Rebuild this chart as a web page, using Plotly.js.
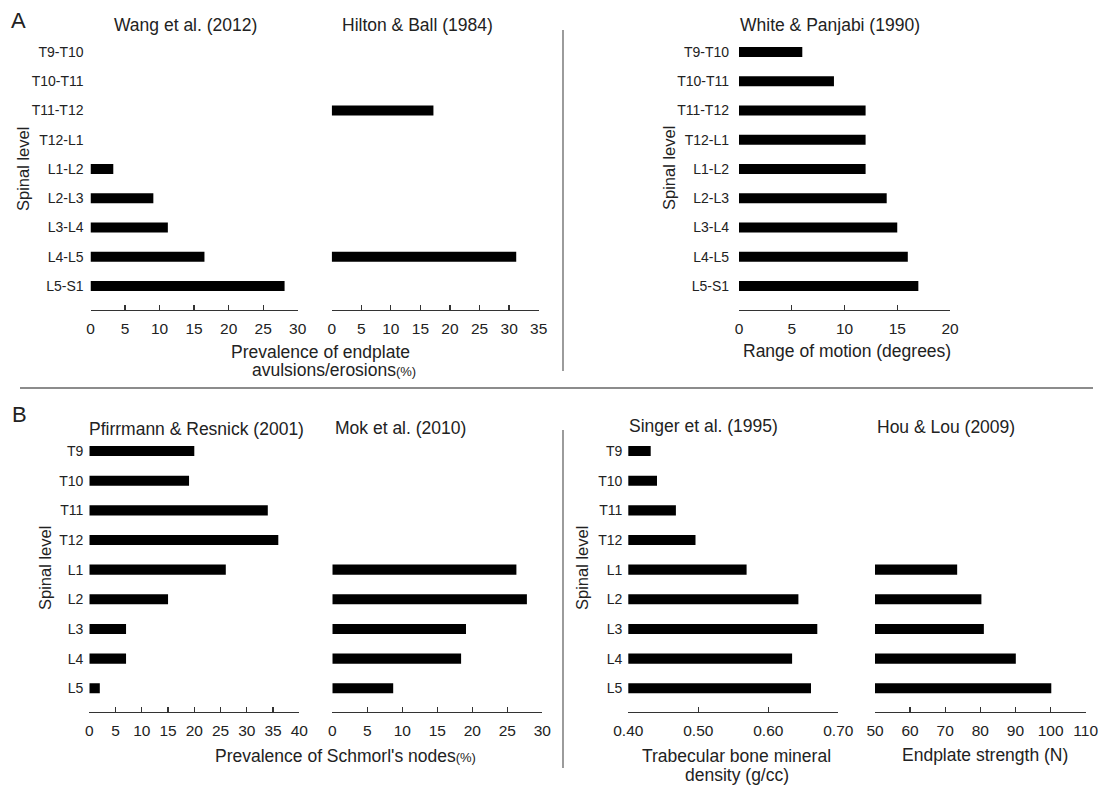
<!DOCTYPE html>
<html>
<head>
<meta charset="utf-8">
<script src="https://cdn.plot.ly/plotly-3.0.1.min.js"></script>
<style>html,body{margin:0;padding:0;background:#fff;}#chart{width:1104px;height:785px;}</style>
</head>
<body>
<div id="chart"></div>
<script>
// ---- data ----
const levelsA = ['T9-T10','T10-T11','T11-T12','T12-L1','L1-L2','L2-L3','L3-L4','L4-L5','L5-S1'];
const levelsB = ['T9','T10','T11','T12','L1','L2','L3','L4','L5'];

const wang2012    = [null, null, null, null, 3.3, 9.1, 11.2, 16.5, 28.1];
const hilton1984  = [null, null, 17.2, null, null, null, null, 31.2, null];
const white1990   = [6, 9, 12, 12, 12, 14, 15, 16, 17];

const pfirrmann2001 = [20, 19, 34, 36, 26, 15, 7, 7, 2];
const mok2010       = [null, null, null, null, 26.3, 27.8, 19.1, 18.4, 8.7];
const singer1995    = [0.432, 0.441, 0.468, 0.496, 0.569, 0.643, 0.670, 0.634, 0.661];
const hou2009       = [null, null, null, null, 73.4, 80.3, 81.0, 90.1, 100.2];

const panelTitles = ['Wang et al. (2012)', 'Hilton & Ball (1984)', 'White & Panjabi (1990)',
  'Pfirrmann & Resnick (2001)', 'Mok et al. (2010)', 'Singer et al. (1995)', 'Hou & Lou (2009)'];

// ---- layout helpers ----
const W = 1104, H = 785;
const px = v => v / W;
const py = v => 1 - v / H;
const FONT = 'Liberation Sans, Arial, Helvetica, sans-serif';
const TXT = '#222';

const panels = [
  {vals: wang2012,      cats: levelsA, x0: 90.5,  x1: 297.7,  rng: [0, 30],     dtick: 5,   labels: true,  row: 'A', so: 6},
  {vals: hilton1984,    cats: levelsA, x0: 331.7, x1: 538.7,  rng: [0, 35],     dtick: 5,   labels: false, row: 'A', so: 6},
  {vals: white1990,     cats: levelsA, x0: 739,   x1: 950,    rng: [0, 20],     dtick: 5,   labels: true,  row: 'A', so: 9},
  {vals: pfirrmann2001, cats: levelsB, x0: 89.3,  x1: 299.3,  rng: [0, 40],     dtick: 5,   labels: true,  row: 'B', so: 5},
  {vals: mok2010,       cats: levelsB, x0: 332.3, x1: 542.3,  rng: [0, 30],     dtick: 5,   labels: false, row: 'B', so: 5},
  {vals: singer1995,    cats: levelsB, x0: 628.3, x1: 838.3,  rng: [0.4, 0.7],  dtick: 0.1, labels: true,  row: 'B', so: 5, fmt: '.2f'},
  {vals: hou2009,       cats: levelsB, x0: 875,   x1: 1085.7, rng: [50, 110],   dtick: 10,  labels: false, row: 'B', so: 5}
];
const rows = {
  A: {top: 37.4, bottom: 310, yr: [8.82, -0.5]},
  B: {top: 436.2, bottom: 711.7, yr: [8.79, -0.5]}
};

const data = [];
const layout = {
  width: W, height: H,
  margin: {l: 0, r: 0, t: 0, b: 0},
  paper_bgcolor: '#fff', plot_bgcolor: 'rgba(0,0,0,0)',
  showlegend: false,
  font: {family: FONT, color: TXT},
  annotations: [],
  shapes: []
};

panels.forEach((p, i) => {
  const n = i + 1;
  const sfx = n === 1 ? '' : String(n);
  const r = rows[p.row];
  data.push({
    type: 'bar', orientation: 'h',
    x: p.vals, y: p.cats,
    xaxis: 'x' + sfx, yaxis: 'y' + sfx,
    width: 0.34,
    marker: {color: '#000', line: {width: 0}},
    hoverinfo: 'x+y'
  });
  layout['xaxis' + sfx] = {
    domain: [px(p.x0), px(p.x1)],
    anchor: 'y' + sfx,
    range: p.rng, dtick: p.dtick, tick0: p.rng[0],
    tickformat: p.fmt || '',
    showline: true, linecolor: '#333', linewidth: 1.3,
    ticks: 'inside', ticklen: 5, tickwidth: 1.3, tickcolor: '#333',
    showgrid: false, zeroline: false,
    tickfont: {family: FONT, size: 15.5, color: TXT},
    ticklabelstandoff: 4,
    fixedrange: true
  };
  layout['yaxis' + sfx] = {
    domain: [py(r.bottom), py(r.top)],
    anchor: 'x' + sfx,
    type: 'category', categoryorder: 'array', categoryarray: p.cats,
    range: r.yr,
    showline: false, ticks: '', showgrid: false, zeroline: false,
    showticklabels: p.labels,
    tickfont: {family: FONT, size: 14, color: TXT},
    ticklabelstandoff: p.so,
    fixedrange: true
  };
});

function ann(text, x, y, size, extra) {
  layout.annotations.push(Object.assign({
    text: text, x: px(x), y: py(y), xref: 'paper', yref: 'paper',
    xanchor: 'center', yanchor: 'middle', showarrow: false,
    font: {family: FONT, size: size, color: TXT}
  }, extra || {}));
}

// panel titles
const titlePos = [[185, 25], [417, 25], [830, 25], [196, 429], [400, 428], [704, 426], [946, 427]];
panelTitles.forEach((t, i) => ann(t, titlePos[i][0], titlePos[i][1], 17.5));

// axis titles
ann('Prevalence of endplate', 320, 352, 17.5);
ann("avulsions/erosions<span style='font-size:13px'>(%)</span>", 334, 370, 17.5);
ann('Range of motion (degrees)', 847, 351, 17.5);
ann("Prevalence of Schmorl's nodes<span style='font-size:13px'>(%)</span>", 345, 756, 17.5);
ann('Trabecular bone mineral', 736, 756, 17.5);
ann('density (g/cc)', 737, 775, 17.5);
ann('Endplate strength (N)', 985, 755, 17.5);

// spinal level labels
[[23, 169], [669, 168], [45, 568], [582, 568]].forEach(p =>
  ann('Spinal level', p[0], p[1], 16.5, {textangle: -90}));

// panel letters
ann('A', 18, 21, 22);
ann('B', 19, 414, 22);

// separators
const sep = (x0, y0, x1, y1) => layout.shapes.push({
  type: 'line', xref: 'paper', yref: 'paper',
  x0: px(x0), y0: py(y0), x1: px(x1), y1: py(y1),
  line: {color: '#666', width: 1.3}
});
sep(563, 30, 563, 371);
sep(20, 388, 1093, 388);
sep(563, 430, 563, 768);

Plotly.newPlot('chart', data, layout, {displayModeBar: false, staticPlot: true});
</script>
</body>
</html>
